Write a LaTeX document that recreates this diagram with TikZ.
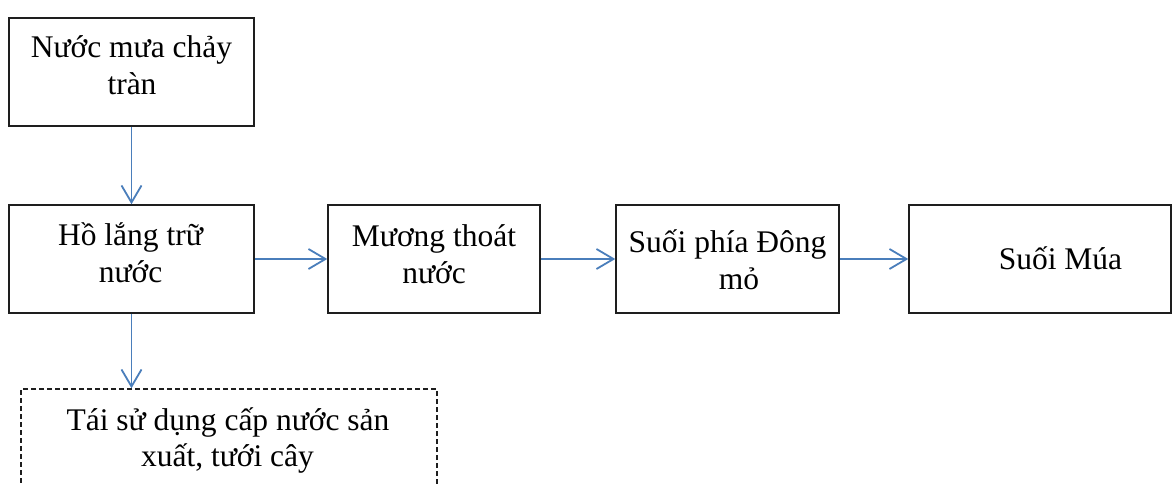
\documentclass[tikz,border=0pt]{standalone}
\usepackage{fontspec}
\setmainfont{Liberation Serif}
\usetikzlibrary{arrows.meta}
\definecolor{arrowblue}{RGB}{74,126,187}
\definecolor{boxline}{RGB}{30,30,30}
\begin{document}
\begin{tikzpicture}[x=1pt,y=-1pt,
  box/.style={draw=boxline,line width=1.5pt,rectangle,inner sep=0pt,minimum height=108pt},
  dbox/.style={box,dash pattern=on 5pt off 3pt},
  txt/.style={anchor=base,inner sep=0pt,font=\fontsize{31.5}{37}\selectfont},
  flow/.style={draw=arrowblue,line width=1.8pt,-{Straight Barb[length=17pt,width=20pt,line width=1.8pt]}}]
\useasboundingbox (0,0) rectangle (1172,484);
\clip (0,0) rectangle (1172,484);
\fill[white] (0,0) rectangle (1172,484);
% boxes
\node[box,minimum width=245pt] (b1) at (131.5,72) {};
\node[box,minimum width=245pt] (b2) at (131.5,259) {};
\node[box,minimum width=212pt] (b3) at (434,259) {};
\node[box,minimum width=223pt] (b4) at (727.5,259) {};
\node[box,minimum width=262pt] (b5) at (1040,259) {};
\node[dbox,minimum width=416pt,minimum height=135pt] (d) at (229,456.5) {};
% texts
\node[txt] (t1a) at (131.5,58) {Nước mưa chảy};
\node[txt] (t1b) at (132,95) {tràn};
\node[txt] (t2a) at (130.5,245) {Hồ lắng trữ};
\node[txt] (t2b) at (130.5,282) {nước};
\node[txt] (t3a) at (434,246) {Mương thoát};
\node[txt] (t3b) at (434,283) {nước};
\node[txt] (t4a) at (727.5,252.5) {Suối phía Đông};
\node[txt] (t4b) at (739,289) {mỏ};
\node[txt] (t5) at (1060.5,269) {Suối Múa};
\node[txt] (tda) at (228,430) {Tái sử dụng cấp nước sản};
\node[txt] (tdb) at (227.5,466) {xuất, tưới cây};
% connectors
\draw[flow] (b1.south) -- (b2.north);
\draw[flow] (b2.east) -- (b3.west);
\draw[flow] (b3.east) -- (b4.west);
\draw[flow] (b4.east) -- (b5.west);
\draw[flow] (b2.south) -- (b2.south |- d.north);
\end{tikzpicture}
\end{document}
